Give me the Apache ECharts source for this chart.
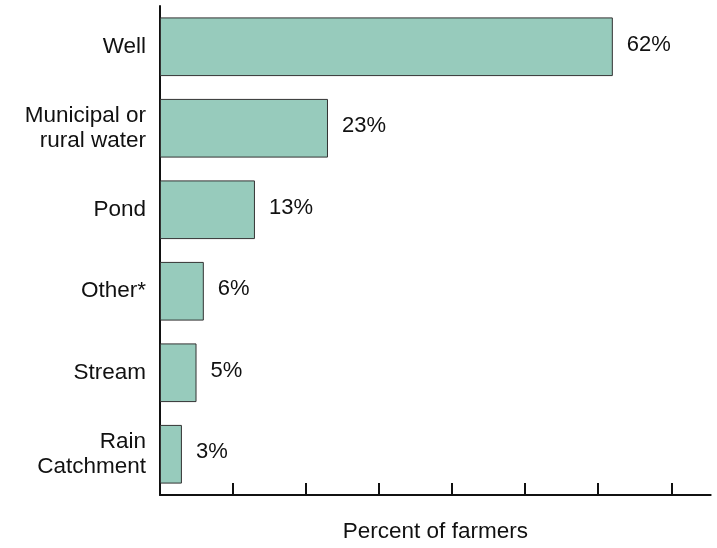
<!DOCTYPE html>
<html>
<head>
<meta charset="utf-8">
<script src="https://cdn.jsdelivr.net/npm/echarts@6/dist/echarts.min.js"></script>
<style>
  html, body { margin: 0; padding: 0; background: #ffffff; }
  #chart { width: 717px; height: 548px; }
</style>
</head>
<body>
<div id="chart"></div>
<script>
// Water sources used by farmers, share in percent
const categories = ['Well', 'Municipal or\nrural water', 'Pond', 'Other*', 'Stream', 'Rain\nCatchment'];
const percents = [62, 23, 13, 6, 5, 3];
const tickValues = [10, 20, 30, 40, 50, 60, 70];
const axisTitle = 'Percent of farmers';

const FONT = '"Liberation Sans", Arial, sans-serif';
const INK = '#111111';

const chart = echarts.init(document.getElementById('chart'), null, { renderer: 'canvas' });

chart.setOption({
  animation: false,
  backgroundColor: '#ffffff',
  grid: { left: 160, right: 6.3, top: 6, bottom: 53, containLabel: false },
  xAxis: {
    type: 'value',
    min: 0,
    max: 75.4,
    splitLine: { show: false },
    axisLabel: { show: false },
    axisLine: { show: true, lineStyle: { color: INK, width: 2 } },
    axisTick: {
      show: true,
      inside: true,
      length: 12,
      customValues: tickValues,
      lineStyle: { color: INK, width: 2 }
    },
    name: axisTitle,
    nameLocation: 'middle',
    nameGap: 25,
    nameTextStyle: { fontFamily: FONT, fontSize: 22.5, color: INK }
  },
  yAxis: {
    type: 'category',
    data: categories,
    inverse: true,
    axisLine: { show: true, lineStyle: { color: INK, width: 2 } },
    axisTick: { show: false },
    axisLabel: {
      margin: 14,
      fontFamily: FONT,
      fontSize: 22.5,
      lineHeight: 25,
      color: INK,
      align: 'right',
      padding: [0, 0, 5, 0]
    }
  },
  series: [{
    type: 'bar',
    data: percents,
    barCategoryGap: '28%',
    itemStyle: { color: '#97cbbc', borderColor: '#333333', borderWidth: 1 },
    label: {
      show: true,
      position: 'right',
      distance: 14,
      offset: [0, -2],
      formatter: '{c}%',
      fontFamily: FONT,
      fontSize: 22,
      color: INK
    }
  }]
});
</script>
</body>
</html>
